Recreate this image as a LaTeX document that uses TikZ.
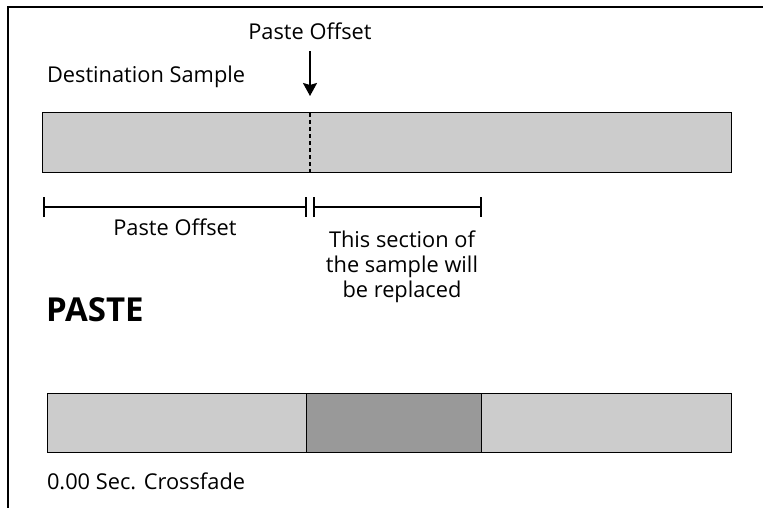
\documentclass[tikz,border=0pt]{standalone}
\usepackage{fontspec}
\setmainfont{Open Sans}
\usetikzlibrary{arrows.meta,positioning,shadows}
\definecolor{barLight}{HTML}{CCCCCC}
\definecolor{barDark}{HTML}{999999}

\begin{document}
\begin{tikzpicture}[x=1pt,y=-1pt,
    every node/.style={font=\fontsize{21.8}{25}\selectfont,inner sep=0pt,outer sep=0pt},
    >={Stealth[length=13pt,width=14pt,inset=2pt]},
    bar/.style={draw,line width=1pt,minimum height=59pt,
      drop shadow={shadow xshift=1.2pt,shadow yshift=-1.2pt,fill=black,opacity=1}},
    dim/.style={line width=1.6pt,{Bar[width=20pt,line width=1.6pt]}-{Bar[width=20pt,line width=1.6pt]}}]
  \useasboundingbox (0,0) rectangle (765,508);
  \draw[line width=1.3pt] (8,508) -- (8,7) -- (763,7);

  % destination sample
  \node[anchor=base west] (dlabel) at (47,83) {Destination Sample};
  \node[anchor=base] (plabel) at (310,40) {Paste Offset};
  \node[bar,fill=barLight,minimum width=689pt] (dest) at (386.5,142.5) {};
  \coordinate (arrtip) at (310,96);
  \draw[->,line width=2pt,shorten <=11pt] (plabel.south) -- (arrtip);
  \draw[dashed,line width=1.5pt,dash pattern=on 4pt off 3pt] (dest.north -| arrtip) -- (dest.south -| arrtip);

  % offset and replaced section
  \coordinate (d0) at (43,207);
  \coordinate (d1) at (307,207);
  \coordinate (d2) at (313,207);
  \coordinate (d3) at (482,207);
  \draw[dim] (d0) -- (d1);
  \draw[dim] (d2) -- (d3);
  \node[anchor=base] (olabel) at (175,235) {Paste Offset};
  \node[anchor=north,align=center] (rlabel) at (402,231)
    {This section of\\the sample will\\be replaced};

  % result
  \node[anchor=base west,font=\bfseries\fontsize{33}{37}\selectfont] (title) at (46,321) {PASTE};
  \node[bar,fill=barLight,minimum width=259pt,anchor=west] (seg1) at (47,422.5) {};
  \node[bar,fill=barDark,minimum width=175pt,right=0pt of seg1] (seg2) {};
  \node[bar,fill=barLight,minimum width=250pt,right=0pt of seg2] (seg3) {};
  \node[anchor=base west] (xfade) at (47,489) {0.00 Sec. Crossfade};
\end{tikzpicture}
\end{document}
